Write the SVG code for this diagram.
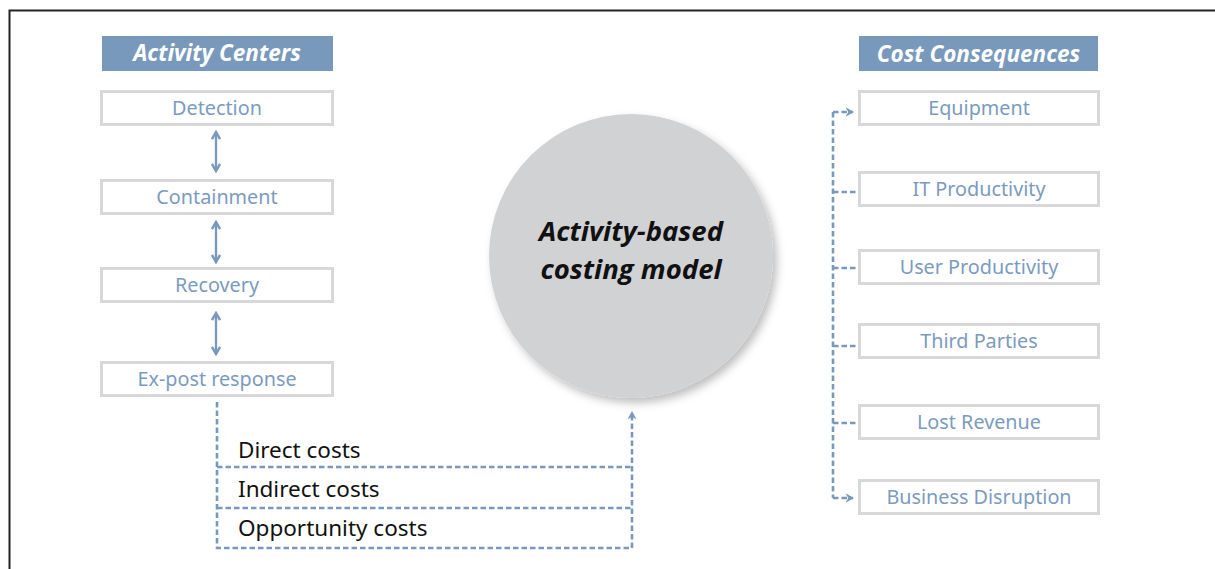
<svg xmlns="http://www.w3.org/2000/svg" width="1215" height="569" viewBox="0 0 1215 569">
<defs>
<style>
.hdr{fill:#7899bc}
.hdrt{font-family:"Open Sans","Noto Sans",sans-serif;font-weight:bold;font-style:italic;font-size:22.5px;fill:#fff;text-anchor:middle}
.box{fill:#fff;stroke:#d7d8d9;stroke-width:3}
.lbl{font-family:"Noto Sans","Open Sans",sans-serif;font-size:19.8px;fill:#7a9bbf;text-anchor:middle}
.dot{fill:none;stroke:#7899bc;stroke-width:2.6;stroke-dasharray:5.5 3}
.solid{fill:none;stroke:#7899bc;stroke-width:2.4}
.cost{font-family:"Noto Sans","Open Sans",sans-serif;font-size:22.5px;fill:#111}
.big{font-family:"Open Sans","Noto Sans",sans-serif;font-weight:bold;font-style:italic;font-size:27.5px;fill:#111;text-anchor:middle}
</style>
<marker id="ah" viewBox="0 0 10 10" refX="8" refY="5" markerWidth="4.2" markerHeight="4.2" orient="auto-start-reverse" markerUnits="strokeWidth">
<path d="M1,1 L8,5 L1,9" fill="none" stroke="#7899bc" stroke-width="2.4"/>
</marker>
<marker id="ch" viewBox="0 0 10 10" refX="8" refY="5" markerWidth="3.6" markerHeight="3.6" orient="auto-start-reverse" markerUnits="strokeWidth">
<path d="M0,0 L9,5 L0,10 L3,5 Z" fill="#7899bc"/>
</marker>
<filter id="sh" x="-20%" y="-20%" width="140%" height="140%">
<feDropShadow dx="4" dy="5" stdDeviation="4" flood-color="#000" flood-opacity="0.25"/>
</filter>
</defs>
<rect width="1215" height="569" fill="#fff"/>
<path d="M9.5,569 V10.5 H1215" fill="none" stroke="#222" stroke-width="2"/>

<g id="activity-centers-header">
<rect class="hdr" x="102" y="36" width="231" height="35"/>
<text class="hdrt" x="217" y="61">Activity Centers</text>
</g>
<g id="detection">
<rect class="box" x="101.5" y="91.5" width="231" height="33"/>
<text class="lbl" x="217" y="115">Detection</text>
</g>
<g id="containment">
<rect class="box" x="101.5" y="180.5" width="231" height="33"/>
<text class="lbl" x="217" y="204">Containment</text>
</g>
<g id="recovery">
<rect class="box" x="101.5" y="268.5" width="231" height="33"/>
<text class="lbl" x="217" y="292">Recovery</text>
</g>
<g id="ex-post-response">
<rect class="box" x="101.5" y="362.5" width="231" height="33"/>
<text class="lbl" x="217" y="386">Ex-post response</text>
</g>

<g id="cost-consequences-header">
<rect class="hdr" x="859" y="36" width="239" height="35"/>
<text class="hdrt" x="978.5" y="62">Cost Consequences</text>
</g>
<g id="equipment">
<rect class="box" x="859.5" y="91.5" width="239" height="33"/>
<text class="lbl" x="979" y="115">Equipment</text>
</g>
<g id="it-productivity">
<rect class="box" x="859.5" y="172.5" width="239" height="33"/>
<text class="lbl" x="979" y="196">IT Productivity</text>
</g>
<g id="user-productivity">
<rect class="box" x="859.5" y="250.5" width="239" height="33"/>
<text class="lbl" x="979" y="274">User Productivity</text>
</g>
<g id="third-parties">
<rect class="box" x="859.5" y="324.5" width="239" height="33"/>
<text class="lbl" x="979" y="348">Third Parties</text>
</g>
<g id="lost-revenue">
<rect class="box" x="859.5" y="405.5" width="239" height="33"/>
<text class="lbl" x="979" y="429">Lost Revenue</text>
</g>
<g id="business-disruption">
<rect class="box" x="859.5" y="480.5" width="239" height="33"/>
<text class="lbl" x="979" y="504">Business Disruption</text>
</g>

<g id="abc-model">
<circle cx="631" cy="256" r="142" fill="#d1d2d4" filter="url(#sh)"/>
<text class="big" x="631" y="241">Activity-based</text>
<text class="big" x="631" y="279">costing model</text>
</g>

<g id="cost-types">
<text class="cost" x="238" y="458">Direct costs</text>
<text class="cost" x="238" y="497">Indirect costs</text>
<text class="cost" x="238" y="536">Opportunity costs</text>
</g>

<g id="connectors">
<line class="solid" x1="216" y1="132" x2="216" y2="171" marker-start="url(#ah)" marker-end="url(#ah)"/>
<line class="solid" x1="216" y1="222" x2="216" y2="262" marker-start="url(#ah)" marker-end="url(#ah)"/>
<line class="solid" x1="216" y1="313" x2="216" y2="354" marker-start="url(#ah)" marker-end="url(#ah)"/>
<path class="dot" d="M217,402 V548 H632 V412" marker-end="url(#ch)"/>
<line class="dot" x1="217" y1="467" x2="632" y2="467"/>
<line class="dot" x1="217" y1="508" x2="632" y2="508"/>
<path class="dot" d="M833,112 V498"/>
<path class="dot" d="M833,112 H853" marker-end="url(#ch)"/>
<path class="dot" d="M833,192 H856"/>
<path class="dot" d="M833,268 H856"/>
<path class="dot" d="M833,346 H856"/>
<path class="dot" d="M833,423 H856"/>
<path class="dot" d="M833,498 H853" marker-end="url(#ch)"/>
</g>
</svg>
